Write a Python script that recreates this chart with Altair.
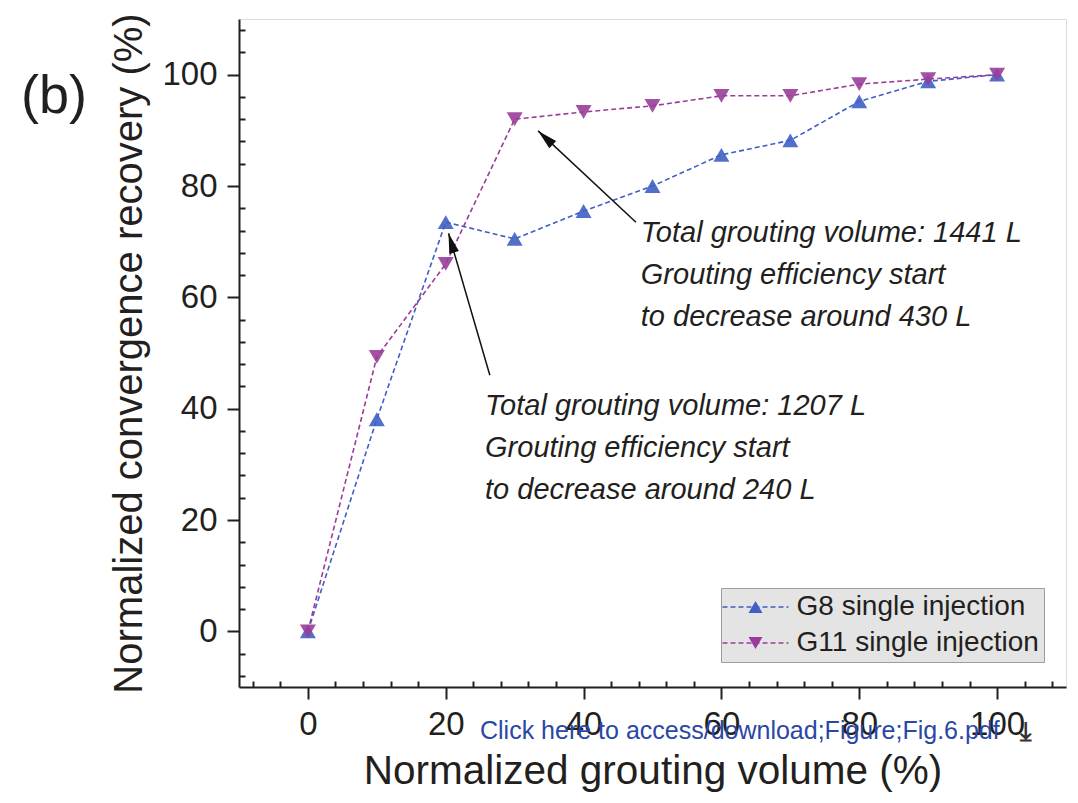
import math
import altair as alt
import pandas as pd

# ---------------- data ----------------
x_vals = [0, 10, 20, 30, 40, 50, 60, 70, 80, 90, 100]
g8_vals = [0, 38.1, 73.5, 70.5, 75.5, 80.0, 85.6, 88.2, 95.2, 98.8, 100]
g11_vals = [0, 49.3, 66.0, 92.0, 93.3, 94.4, 96.2, 96.2, 98.3, 99.2, 100]
series_names = ["G8 single injection", "G11 single injection"]
series_colors = ["#3f5fc4", "#9a3d9a"]
series_shapes = ["triangle-up", "triangle-down"]

x_major = [0, 20, 40, 60, 80, 100]
y_major = [0, 20, 40, 60, 80, 100]
x_minor = [v for v in range(-8, 109, 4) if v % 20 != 0]
y_minor = [v for v in range(-8, 109, 4) if v % 20 != 0]

ann_x = [48.3, 25.7]
ann_y = [70.0, 38.85]
ann_text = [
    "Total grouting volume: 1441 L\nGrouting efficiency start\nto decrease around 430 L",
    "Total grouting volume: 1207 L\nGrouting efficiency start\nto decrease around 240 L",
]
arrow_tail_x = [47.6, 26.4]
arrow_tail_y = [73.5, 46.0]
arrow_head_x = [33.4, 20.4]
arrow_head_y = [89.9, 71.5]

link_text = "Click here to access/download;Figure;Fig.6.pdf"
panel_label = "(b)"

# ---------------- layout ----------------
W, H = 827, 668
XD = [-10, 110]
YD = [-10, 110]
ink = "#231f20"
font = "Liberation Sans"

df = pd.DataFrame({
    "x": x_vals + x_vals,
    "y": g8_vals + g11_vals,
    "series": [series_names[0]] * len(x_vals) + [series_names[1]] * len(x_vals),
})

px_x = W / (XD[1] - XD[0])
px_y = H / (YD[1] - YD[0])
angles = []
for tx, ty, hx, hy in zip(arrow_tail_x, arrow_tail_y, arrow_head_x, arrow_head_y):
    dx = (hx - tx) * px_x
    dy = -(hy - ty) * px_y
    angles.append(math.degrees(math.atan2(dx, -dy)) % 360)
arrows = pd.DataFrame({"tx": arrow_tail_x, "ty": arrow_tail_y,
                       "hx": arrow_head_x, "hy": arrow_head_y, "angle": angles})
ann = pd.DataFrame({"x": ann_x, "y": ann_y, "text": ann_text})

xscale = alt.Scale(domain=XD, nice=False, zero=False)
yscale = alt.Scale(domain=YD, nice=False, zero=False)
cscale = alt.Scale(domain=series_names, range=series_colors)

LEG_X, LEG_Y, ROW = 482, 569, 36
common_leg = dict(orient="none", legendX=LEG_X, title=None, padding=5,
                  symbolOffset=15.5, labelOffset=27, labelFontSize=28, labelFont=font,
                  rowPadding=8, labelLimit=400)

# legend A: dashed line + labels + box
legend_lines = alt.Legend(
    legendY=LEG_Y, fillColor="#e4e4e4", strokeColor="#9c9c9c",
    symbolType="M-2.64,0 L2.64,0", symbolSize=625, symbolStrokeWidth=1.5,
    symbolDash=[5, 3], labelColor=ink, zindex=1, **common_leg)

x_major_axis = alt.Axis(values=x_major, orient="bottom", tickSize=12, tickWidth=2, tickColor=ink,
                        domain=True, domainWidth=2, domainColor=ink, grid=False,
                        labelFontSize=33, labelColor=ink, labelFont=font, labelPadding=9,
                        labelFlush=False, labelOverlap=False,
                        title="Normalized grouting volume (%)", titleFontSize=40.5,
                        titleFont=font, titleFontWeight="normal", titleColor=ink, titlePadding=10)
y_major_axis = alt.Axis(values=y_major, orient="left", tickSize=12, tickWidth=2, tickColor=ink,
                        domain=True, domainWidth=2, domainColor=ink, grid=False,
                        labelFontSize=33, labelColor=ink, labelFont=font, labelPadding=10,
                        labelFlush=False, labelOverlap=False,
                        title="Normalized convergence recovery (%)", titleFontSize=40,
                        titleFont=font, titleFontWeight="normal", titleColor=ink, titlePadding=12)
x_minor_axis = alt.Axis(values=x_minor, orient="bottom", tickSize=6, tickWidth=2, tickColor=ink,
                        offset=-6, labels=False, domain=False, grid=False, title=None)
y_minor_axis = alt.Axis(values=y_minor, orient="left", tickSize=6, tickWidth=2, tickColor=ink,
                        offset=-6, labels=False, domain=False, grid=False, title=None)

lines = alt.Chart(df).mark_line(strokeDash=[5, 3], strokeWidth=1.6).encode(
    x=alt.X("x:Q", scale=xscale, axis=x_major_axis),
    y=alt.Y("y:Q", scale=yscale, axis=y_major_axis),
    color=alt.Color("series:N", scale=cscale, legend=legend_lines),
)


def point_layer(i, xaxis, yaxis):
    leg = alt.Legend(legendY=LEG_Y + i * ROW, values=[series_names[i]],
                     symbolType=series_shapes[i], symbolSize=196, symbolStrokeWidth=0,
                     symbolOpacity=1, labelOpacity=0, zindex=2 + i, **common_leg)
    return alt.Chart(df).transform_filter(
        alt.datum.series == series_names[i]
    ).mark_point(filled=True, size=256, opacity=0.9, shape=series_shapes[i]).encode(
        x=alt.X("x:Q", scale=xscale, axis=xaxis),
        y=alt.Y("y:Q", scale=yscale, axis=yaxis),
        color=alt.Color("series:N", scale=cscale, legend=leg),
    )


pts_g8 = point_layer(0, x_minor_axis, y_minor_axis)
pts_g11 = point_layer(1, None, None)

shafts = alt.Chart(arrows).mark_rule(color="#111111", strokeWidth=1.5).encode(
    x=alt.X("tx:Q", scale=xscale, axis=None),
    y=alt.Y("ty:Q", scale=yscale, axis=None),
    x2="hx:Q", y2="hy:Q",
)
heads = alt.Chart(arrows).mark_point(
    shape="M0,0 L-0.5,2 L0.5,2 Z", filled=True, color="#111111", size=400, opacity=1
).encode(
    x=alt.X("hx:Q", scale=xscale, axis=None),
    y=alt.Y("hy:Q", scale=yscale, axis=None),
    angle=alt.Angle("angle:Q", scale=None),
)

notes = alt.Chart(ann).mark_text(
    align="left", baseline="alphabetic", fontStyle="italic", fontSize=29,
    lineHeight=42, lineBreak="\n", color=ink, font=font
).encode(
    x=alt.X("x:Q", scale=xscale, axis=None),
    y=alt.Y("y:Q", scale=yscale, axis=None),
    text="text:N",
)

link = alt.Chart(pd.DataFrame({"t": [link_text]})).mark_text(
    align="left", baseline="middle", fontSize=25, color="#2a47a6", font=font
).encode(x=alt.value(241), y=alt.value(712), text="t:N")

icon = alt.Chart(pd.DataFrame({"t": ["⤓"]})).mark_text(
    align="center", baseline="middle", fontSize=26, fontWeight="bold",
    color="#333333", font="DejaVu Sans"
).encode(x=alt.value(786), y=alt.value(713), text="t:N")

label_b = alt.Chart(pd.DataFrame({"t": [panel_label]})).mark_text(
    align="center", baseline="alphabetic", fontSize=54, color=ink, font=font
).encode(x=alt.value(-185), y=alt.value(94), text="t:N")

chart = alt.layer(lines, pts_g8, pts_g11, shafts, heads, notes, link, icon, label_b).resolve_axis(
    x="independent", y="independent"
).resolve_scale(color="independent").resolve_legend(color="independent").properties(
    width=W, height=H,
    padding={"left": 239, "top": 19, "right": 12, "bottom": 116},
    autosize=alt.AutoSizeParams(type="none"),
    background="white",
).configure_view(stroke=ink, strokeWidth=2).configure(font=font)

chart.save("out.html", embed_options={"renderer": "svg", "actions": False})
